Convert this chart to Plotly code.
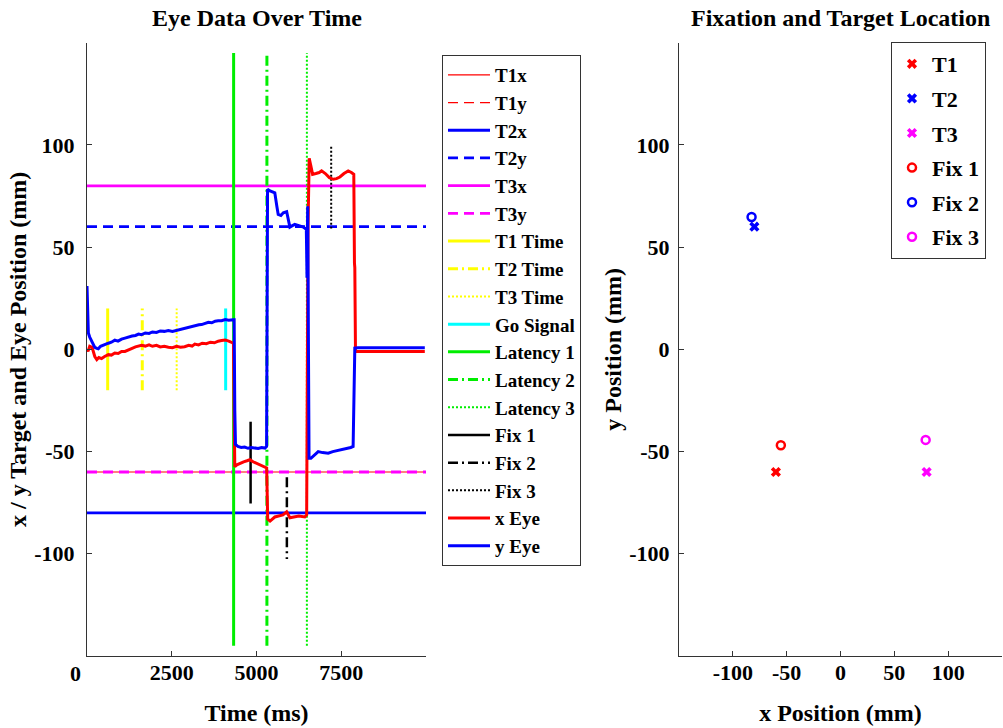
import plotly.graph_objects as go

W, H = 1003, 728
FONT = "Liberation Serif"

# ---------------- data ----------------
# target positions (mm)
target_names = ["T1", "T2", "T3"]
target_x = [-60, -80, 80]
target_y = [-60, 60, -60]

# event times (ms)
target_time = [610, 1630, 2645]
go_time = 4090
latency_time = [4325, 5307, 6486]
fix_time = [4826, 5896, 7203]

# fixation positions (mm)
fix_names = ["Fix 1", "Fix 2", "Fix 3"]
fix_x = [-55.4, -82.6, 79.1]
fix_y = [-46.9, 64.7, -44.3]

# eye traces
eye_t_x = [0, 30, 80, 150, 230, 290, 350, 430, 520, 630, 720, 820, 920, 1020, 1120, 1230,
           1330, 1430, 1520, 1610, 1720, 1830, 1930, 2050, 2160, 2280, 2400, 2520, 2640, 2760,
           2880, 3000, 3100, 3180, 3290, 3400, 3520, 3640, 3760, 3870, 3970, 4080, 4180, 4265,
           4320, 4340, 4360, 4420, 4510, 4620, 4720, 4805, 4900, 5000, 5120, 5245, 5300, 5330,
           5400, 5540, 5650, 5780, 5890, 5985, 6100, 6250, 6425, 6480, 6520, 6555, 6600, 6655,
           6750, 6850, 6920, 7030, 7150, 7265, 7360, 7460, 7580, 7705, 7800, 7870, 7890, 7900,
           7920, 7990, 8200, 8500, 8800, 9100, 9400, 9700, 9965]
eye_x = [0, -1, 1.5, 1, -3.5, -5, -4, -4.5, -3.5, -2.6, -2.8, -1.8, -2, -1, -1, 0,
         0.5, 1.2, 1.5, 2, 1.6, 2.2, 1.5, 2, 1.2, 1.5, 1, 0.8, 1.5, 1,
         1.3, 2, 1.6, 2.6, 2.2, 3, 2.8, 3.5, 3.2, 4, 4.3, 4.6, 4, 3.6,
         3, -30, -57.4, -56.5, -55.7, -55, -54.5, -54, -55, -55.7, -56.5, -57.4, -58, -83,
         -84, -82, -81.5, -81, -79.5, -82.4, -82, -81.5, -82, -81, 60, 93.5, 90, 85.6,
         86, 86.5, 87.3, 86, 84, 83.2, 83.5, 84.3, 86, 87.3, 86.5, 85.6, 42, 40,
         -1, -1, -1, -1, -1, -1, -1, -1, -1]

eye_t_y = [0, 20, 40, 80, 150, 230, 290, 333, 400, 500, 630, 720, 820, 915, 1020, 1120,
           1230, 1330, 1430, 1520, 1610, 1720, 1830, 1930, 2050, 2160, 2280, 2400, 2520, 2595,
           2700, 2800, 2900, 3000, 3100, 3200, 3300, 3380, 3480, 3580, 3680, 3780, 3870, 3970,
           4080, 4180, 4315, 4340, 4360, 4380, 4450, 4550, 4650, 4750, 4850, 4950, 5050, 5150,
           5250, 5298, 5310, 5326, 5400, 5480, 5540, 5600, 5640, 5720, 5790, 5890, 5940, 5985,
           6060, 6130, 6250, 6380, 6470, 6490, 6510, 6530, 6550, 6605, 6700, 6820, 6950, 7115,
           7250, 7380, 7510, 7650, 7780, 7850, 7880, 7900, 7990, 8200, 8500, 8800, 9100, 9400,
           9700, 9965]
eye_y = [31, 20, 8, 6, 4, 1, 0.5, 0.3, 1.5, 2, 3, 3.5, 4.5, 4, 5, 5.5,
         6.2, 6.5, 6.8, 7.5, 7.2, 8, 7.8, 8.5, 8.3, 9, 8.8, 9.2, 8.8, 9.1,
         9.8, 10.2, 10.5, 11, 11.2, 11.8, 12, 12.1, 12.8, 13.2, 13, 13.8, 14, 14,
         14.6, 14.3, 14.5, 14.5, -30, -46.5, -47.5, -48, -47.8, -48.4, -48, -48.2, -48.5, -48,
         -48.3, -47.5, 0, 78.3, 77.5, 77, 76.6, 70, 66, 65.5, 66.8, 67.3, 63, 59.8,
         60.5, 61.1, 60.5, 59.8, 58.7, 35, 70, 0, -53.3, -53.3, -52, -50, -50.5, -50.8,
         -50, -49.5, -49.2, -48.5, -48, -47.5, -20, 0.6, 0.8, 0.8, 0.8, 0.8, 0.8, 0.8,
         0.8, 0.8]

time_range = [0, 10000]
pos_range = [-150, 150]

# ---------------- styles ----------------
RED, BLUE, MAG = "#FF0000", "#0000FF", "#FF00FF"
YEL, CYAN, GRN, BLK = "#FFFF00", "#00FFFF", "#00EE00", "#000000"
DASH = "10px,6px"
DASHDOT = "10px,4px,2px,4px"
DOT = "2px,2px"

fig = go.Figure()

def hline(name, yval, color, dash, width):
    fig.add_trace(go.Scatter(x=time_range, y=[yval, yval], mode="lines", name=name,
                             line=dict(color=color, dash=dash, width=width),
                             xaxis="x", yaxis="y", legend="legend"))

hline("T1x", target_x[0], RED, "solid", 1.2)
hline("T1y", target_y[0], RED, DASH, 1.2)
hline("T2x", target_x[1], BLUE, "solid", 2.8)
hline("T2y", target_y[1], BLUE, DASH, 2.8)
hline("T3x", target_x[2], MAG, "solid", 2.8)
hline("T3y", target_y[2], MAG, DASH, 2.8)

def vline(name, t, y0, y1, color, dash, width):
    fig.add_trace(go.Scatter(x=[t, t], y=[y0, y1], mode="lines", name=name,
                             line=dict(color=color, dash=dash, width=width),
                             xaxis="x", yaxis="y", legend="legend"))

EV = 20      # half-height of event markers
LAT = 145    # half-height of latency markers
vline("T1 Time", target_time[0], -EV, EV, YEL, "solid", 3)
vline("T2 Time", target_time[1], -EV, EV, YEL, DASHDOT, 3)
vline("T3 Time", target_time[2], -EV, EV, YEL, DOT, 2)
vline("Go Signal", go_time, -EV, EV, CYAN, "solid", 3)
vline("Latency 1", latency_time[0], -LAT, LAT, GRN, "solid", 3)
vline("Latency 2", latency_time[1], -LAT, LAT, GRN, DASHDOT, 3)
vline("Latency 3", latency_time[2], -LAT, LAT, GRN, DOT, 2)
vline("Fix 1", fix_time[0], fix_x[0] + EV, fix_x[0] - EV, BLK, "solid", 2.5)
vline("Fix 2", fix_time[1], fix_x[1] + EV, fix_x[1] - EV, BLK, DASHDOT, 2.5)
vline("Fix 3", fix_time[2], fix_x[2] + EV, fix_x[2] - EV, BLK, DOT, 2)

fig.add_trace(go.Scatter(x=eye_t_x, y=eye_x, mode="lines", name="x Eye",
                         line=dict(color=RED, width=3), xaxis="x", yaxis="y", legend="legend"))
fig.add_trace(go.Scatter(x=eye_t_y, y=eye_y, mode="lines", name="y Eye",
                         line=dict(color=BLUE, width=3), xaxis="x", yaxis="y", legend="legend"))

# right panel
tcolors = [RED, BLUE, MAG]
for i in range(3):
    fig.add_trace(go.Scatter(x=[target_x[i]], y=[target_y[i]], mode="markers", name=target_names[i],
                             legendgroup=target_names[i],
                             marker=dict(symbol="x", size=9, color=tcolors[i], line=dict(width=0)),
                             xaxis="x2", yaxis="y2", legend="legend2"))
for i in range(3):
    fig.add_trace(go.Scatter(x=[fix_x[i]], y=[fix_y[i]], mode="markers", name=fix_names[i],
                             legendgroup=fix_names[i],
                             marker=dict(symbol="circle-open", size=8, color=tcolors[i],
                                         line=dict(width=2.5, color=tcolors[i])),
                             xaxis="x2", yaxis="y2", legend="legend2"))

tickfont = dict(family=FONT, size=22, color="black", weight="bold")
titlefont = dict(family=FONT, size=24, color="black", weight="bold")
axcommon = dict(showline=True, linecolor="#333", linewidth=1, ticks="inside", ticklen=5,
                tickcolor="#333", showgrid=False, zeroline=False, tickfont=tickfont,
                automargin=False)

ydom = [1 - 656 / H, 1 - 42.7 / H]
ytv = [-150, -100, -50, 0, 50, 100, 150]
ytt = ["", "-100", "-50", "0", "50", "100", ""]

fig.update_layout(
    width=W, height=H,
    margin=dict(l=0, r=0, t=0, b=0),
    paper_bgcolor="white", plot_bgcolor="white",
    showlegend=True,
    xaxis=dict(domain=[87 / W, 426 / W], range=time_range,
               tickvals=[0, 2500, 5000, 7500], ticktext=["", "2500", "5000", "7500"],
               title=dict(text="Time (ms)", font=titlefont, standoff=19),
               anchor="y", ticklabelstandoff=-3, **axcommon),
    yaxis=dict(domain=ydom, range=pos_range, tickvals=ytv, ticktext=ytt,
               title=dict(text="x / y Target and Eye Position (mm)", font=titlefont, standoff=0),
               anchor="x", ticklabelstandoff=7, **axcommon),
    xaxis2=dict(domain=[679 / W, 1002 / W], range=pos_range,
                tickvals=[-100, -50, 0, 50, 100], ticktext=["-100", "-50", "0", "50", "100"],
                title=dict(text="x Position (mm)", font=titlefont, standoff=19),
                anchor="y2", ticklabelstandoff=-3, **axcommon),
    yaxis2=dict(domain=ydom, range=pos_range, tickvals=ytv, ticktext=ytt,
                title=dict(text="y Position (mm)", font=titlefont, standoff=0),
                anchor="x2", ticklabelstandoff=4, **axcommon),
    legend=dict(x=442 / W, y=1 - 55 / H, xanchor="left", yanchor="top",
                bgcolor="white", bordercolor="#333", borderwidth=1,
                font=dict(family=FONT, size=19, color="black", weight="bold"),
                itemwidth=42, tracegroupgap=0),
    legend2=dict(x=891 / W, y=1 - 42 / H, xanchor="left", yanchor="top",
                 bgcolor="white", bordercolor="#333", borderwidth=1,
                 font=dict(family=FONT, size=22, color="black", weight="bold"),
                 itemwidth=30, tracegroupgap=3, traceorder="grouped"),
    annotations=[
        dict(text="Eye Data Over Time", x=(87 + 426) / 2 / W, y=1 - 3 / H, xref="paper", yref="paper",
             xanchor="center", yanchor="top", showarrow=False, font=titlefont),
        dict(text="Fixation and Target Location", x=(679 + 1002) / 2 / W, y=1 - 3 / H,
             xref="paper", yref="paper", xanchor="center", yanchor="top", showarrow=False,
             font=titlefont),
        dict(text="0", x=75 / W, y=1 - 673 / H, xref="paper", yref="paper",
             xanchor="center", yanchor="middle", showarrow=False, font=tickfont),
    ],
)

fig.write_html("out.html", config={"displayModeBar": False},
               post_script="document.body.style.margin='0px';document.body.style.overflow='hidden';")
